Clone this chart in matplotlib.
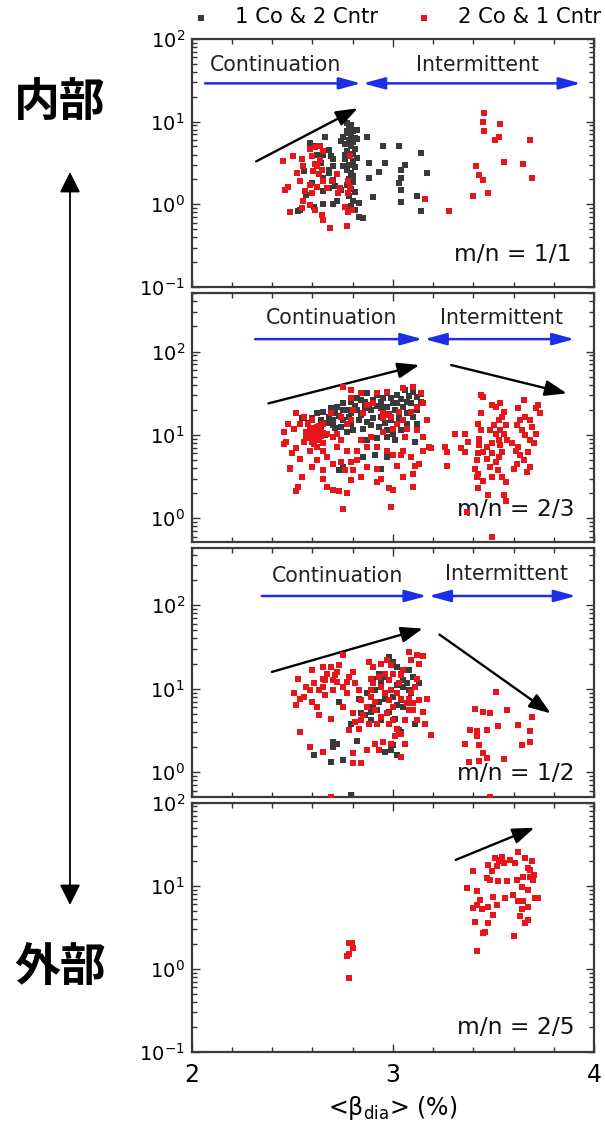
import numpy as np
import matplotlib
matplotlib.use('Agg')
import matplotlib.pyplot as plt
from matplotlib.ticker import MultipleLocator, LogLocator, NullFormatter

# ---- data: (beta_dia %, amplitude) pairs ----
p1_black = [(2.77, 9.5), (2.79, 9.0), (2.78, 8.2), (2.80, 7.6), (2.77, 7.2), (2.79, 6.8), (2.81, 6.4),
            (2.78, 6.0), (2.80, 5.6), (2.76, 5.3), (2.79, 5.0), (2.81, 4.7), (2.77, 4.4), (2.80, 4.1),
            (2.78, 3.8), (2.76, 3.5), (2.80, 3.3), (2.78, 3.0), (2.81, 2.8), (2.77, 2.6), (2.79, 2.4),
            (2.80, 2.2), (2.78, 2.0), (2.80, 1.85), (2.77, 1.7), (2.79, 1.55), (2.81, 1.4), (2.78, 1.25),
            (2.80, 1.1), (2.79, 0.95), (2.81, 0.85), (2.77, 7.8), (2.82, 6.2), (2.75, 6.5), (2.76, 4.0),
            (2.82, 3.6), (2.75, 2.9), (2.74, 5.8), (2.82, 8.0),
            (2.59, 5.5), (2.66, 6.6), (2.68, 4.5), (2.64, 3.15), (2.56, 2.5), (2.68, 2.6), (2.65, 2.07),
            (2.68, 1.56), (2.74, 1.5), (2.57, 1.3), (2.60, 1.8), (2.65, 1.0), (2.54, 0.86), (2.72, 1.1),
            (2.61, 0.94), (2.70, 1.97), (2.62, 3.95), (2.70, 3.5), (2.61, 5.0), (2.65, 4.0), (2.69, 3.8),
            (2.70, 2.9), (2.68, 2.4), (2.71, 1.65), (2.65, 1.45), (2.70, 1.0), (2.53, 0.82),
            (2.87, 6.6), (2.95, 5.0), (3.03, 5.0), (2.88, 3.14), (2.96, 3.14), (2.88, 2.07), (2.93, 2.48),
            (3.06, 3.0), (3.04, 2.6), (3.04, 2.07), (3.03, 1.8), (3.04, 1.47), (3.04, 1.08), (2.90, 1.22),
            (3.14, 4.15), (3.17, 2.42), (3.12, 1.26), (3.14, 0.84), (2.83, 0.71), (2.85, 0.68), (2.83, 1.04)]

p1_red = [(2.455, 3.3), (2.48, 1.64), (2.464, 1.49), (2.505, 3.8), (2.522, 2.4), (2.538, 1.9), (2.555, 2.9),
          (2.55, 3.5), (2.588, 4.6), (2.596, 3.8), (2.613, 3.1), (2.621, 2.9), (2.637, 3.4), (2.604, 2.5),
          (2.646, 2.6), (2.588, 1.7), (2.563, 1.45), (2.596, 1.38), (2.621, 1.64), (2.654, 1.9),
          (2.671, 1.56), (2.696, 1.9), (2.72, 2.3), (2.737, 1.56), (2.729, 1.38), (2.555, 1.1),
          (2.588, 0.98), (2.613, 0.86), (2.646, 0.75), (2.654, 0.65), (2.687, 0.52), (2.77, 0.54),
          (2.489, 0.8), (2.547, 0.89), (2.779, 0.8), (2.795, 0.86), (2.762, 0.94), (2.787, 3.8),
          (2.779, 1.9), (2.787, 1.64), (2.779, 1.38), (2.637, 5.0), (2.613, 4.9), (2.654, 4.4), (2.63, 2.35),
          (3.454, 12.6), (3.449, 9.8), (3.454, 7.7), (3.532, 9.4), (3.527, 6.6), (3.507, 6.0), (3.681, 6.0),
          (3.554, 3.26), (3.648, 3.08), (3.412, 2.94), (3.428, 2.26), (3.446, 1.97), (3.693, 2.07),
          (3.471, 1.36), (3.40, 1.26), (3.16, 1.17), (3.28, 0.83)]

p2_black = [(2.87, 31.5), (2.92, 30), (2.97, 31.5), (3.02, 30), (3.06, 34.6), (3.10, 33), (3.12, 28.8),
            (3.07, 25), (3.02, 23.9), (2.99, 27.5), (2.94, 25), (2.90, 26.2), (2.86, 25), (2.82, 27.5),
            (2.79, 25), (2.75, 23.9), (2.72, 21.8), (2.69, 20.8), (2.65, 19), (2.62, 18.1), (2.60, 15.8),
            (2.64, 15.1), (2.68, 16.5), (2.71, 18.1), (2.75, 19.9), (2.79, 18.1), (2.82, 19.9), (2.86, 20.8),
            (2.89, 19.9), (2.94, 20.8), (2.97, 21.8), (3.01, 19.9), (3.05, 21.8), (3.09, 23.9), (3.12, 19.9),
            (3.10, 16.5), (3.07, 18.1), (3.03, 15.8), (2.99, 15.1), (2.94, 16.5), (2.90, 15.8), (2.87, 14.4),
            (2.83, 15.1), (2.79, 13.7), (2.75, 15.1), (2.74, 12.5), (2.77, 10.9), (2.80, 11.4), (2.85, 11.9),
            (2.89, 13.1), (2.93, 12.5), (2.97, 11.4), (3.00, 10.4), (3.04, 11.4), (2.87, 8.6), (2.92, 9.1),
            (2.97, 9.5), (3.01, 8.6), (3.11, 8.3), (2.85, 5.4), (2.91, 5.7), (2.97, 5.4), (2.94, 3.9),
            (2.75, 4.1), (2.73, 3.8), (2.66, 9.9), (2.70, 13.1), (2.64, 11.9), (3.12, 13.7), (3.07, 13.7),
            (2.84, 17.3), (2.78, 16.5), (2.70, 15.1), (2.95, 28), (3.04, 27), (2.88, 23), (2.81, 22),
            (2.73, 17), (2.98, 18), (3.08, 29), (2.67, 14), (2.92, 22), (3.00, 24), (2.84, 26), (2.77, 20),
            (3.14, 25), (3.14, 31), (2.96, 14), (2.71, 12), (2.58, 14), (2.55, 16)]

p2_red = [(2.46, 10.9), (2.48, 13.7), (2.51, 11.9), (2.47, 8.3), (2.50, 6.0), (2.49, 3.9), (2.52, 6.9),
          (2.54, 5.2), (2.55, 3.1), (2.53, 2.4), (2.52, 18.1), (2.56, 16.5), (2.58, 13.7), (2.60, 11.9),
          (2.61, 10.4), (2.63, 9.1), (2.65, 7.9), (2.59, 9.5), (2.57, 10.9), (2.62, 12.5), (2.64, 10.9),
          (2.60, 8.3), (2.65, 6.5), (2.67, 5.4), (2.59, 6.5), (2.60, 4.1), (2.62, 5.0), (2.65, 3.8),
          (2.65, 3.0), (2.67, 2.4), (2.70, 2.2), (2.73, 2.1), (2.77, 2.0), (2.75, 1.3), (2.70, 4.5),
          (2.74, 4.7), (2.76, 3.8), (2.79, 4.7), (2.82, 5.0), (2.80, 3.8), (2.79, 2.85), (2.84, 3.1),
          (2.87, 4.1), (2.92, 3.9), (2.94, 3.0), (2.92, 2.7), (2.98, 2.3), (3.00, 2.2), (2.99, 1.36),
          (3.05, 3.1), (3.10, 2.4), (3.11, 4.3), (3.09, 5.4), (3.04, 5.7), (3.10, 3.4), (3.13, 4.5),
          (3.15, 6.5), (3.00, 5.7), (2.97, 6.5), (2.92, 7.2), (2.87, 7.2), (2.82, 6.5), (2.77, 6.5),
          (2.72, 7.2), (2.70, 9.5), (2.56, 8.3), (2.60, 15.1), (2.69, 18.1), (2.74, 16.5), (2.79, 15.1),
          (2.77, 13.7), (2.80, 19.9), (2.85, 18.1), (2.90, 23.9), (2.95, 18.1), (2.98, 17.3), (3.02, 13.7),
          (3.05, 15.1), (3.09, 19), (3.12, 21.8), (3.15, 23.9), (3.14, 31.5), (3.10, 37.9), (3.05, 36.2),
          (2.97, 33), (2.92, 31.5), (2.84, 31.5), (2.79, 34.6), (2.75, 37.9), (2.79, 27.5), (2.87, 22.8),
          (2.95, 15.8), (2.99, 16.5), (3.03, 19), (3.07, 11.9), (3.12, 11.4), (3.15, 9.5), (3.18, 7.2),
          (2.54, 13.7), (2.62, 7.2), (2.67, 10.4), (2.65, 13.7), (2.72, 10.4), (2.74, 8.6), (2.84, 8.6),
          (2.89, 9.5), (2.95, 10.9), (3.00, 11.9), (3.06, 9.5), (3.17, 15.1), (3.02, 4.3), (3.05, 6.5),
          (2.59, 11.5), (2.61, 12.0), (2.62, 10.0), (2.60, 9.0), (2.63, 11.0), (2.64, 9.8), (2.58, 10.2),
          (2.62, 8.7), (2.65, 10.5), (2.61, 7.8), (2.57, 9.3), (2.63, 12.8), (2.46, 7.7), (2.49, 4.0),
          (2.52, 2.1),
          (3.19, 6.9), (3.26, 7.2), (3.27, 6.3), (3.27, 4.3), (3.31, 10.4), (3.36, 10.4), (3.375, 8.2),
          (3.34, 6.9), (3.36, 6.3), (3.44, 30), (3.45, 28.7), (3.44, 18.1), (3.425, 13.7), (3.44, 11.4),
          (3.43, 9.0), (3.43, 7.5), (3.425, 6.0), (3.42, 5.0), (3.41, 3.9), (3.425, 3.4), (3.42, 3.1),
          (3.45, 2.8), (3.425, 2.3), (3.475, 1.9), (3.49, 22.8), (3.51, 21.8), (3.53, 23.9), (3.55, 18.9),
          (3.54, 16.5), (3.525, 15.0), (3.50, 13.1), (3.48, 11.4), (3.51, 10.4), (3.53, 11.4), (3.56, 13.1),
          (3.55, 10.4), (3.525, 8.6), (3.49, 7.9), (3.47, 7.2), (3.45, 6.3), (3.47, 5.2), (3.49, 6.0),
          (3.51, 4.7), (3.525, 5.4), (3.54, 6.3), (3.53, 7.5), (3.565, 8.6), (3.59, 7.9), (3.52, 3.8),
          (3.54, 3.1), (3.56, 2.7), (3.49, 3.1), (3.48, 4.1), (3.55, 1.9), (3.56, 1.6), (3.62, 20.8),
          (3.65, 26.2), (3.63, 15.0), (3.615, 13.1), (3.64, 11.4), (3.655, 9.9), (3.62, 7.2), (3.61, 6.5),
          (3.63, 5.7), (3.615, 4.5), (3.60, 3.9), (3.65, 5.0), (3.67, 6.3), (3.68, 8.6), (3.69, 12.5),
          (3.68, 15.0), (3.655, 16.5), (3.71, 10.4), (3.70, 7.9), (3.68, 4.1), (3.665, 3.6), (3.72, 22.8),
          (3.73, 18.1), (3.71, 20.8), (3.49, 0.59), (3.37, 1.18)]

p3_black = [(2.98, 24.1), (3.00, 21.0), (3.02, 18.3), (3.04, 15.2), (3.05, 12.7), (3.08, 16.7), (3.10, 13.9),
            (3.13, 11.6), (3.08, 9.6), (3.05, 10.5), (3.02, 11.0), (2.99, 9.6), (3.00, 8.0), (3.02, 6.4),
            (3.04, 7.3), (3.05, 6.1), (2.96, 13.9), (2.93, 15.2), (2.90, 13.2), (2.94, 11.6), (2.91, 9.6),
            (2.96, 7.6), (2.93, 7.0), (2.90, 6.1), (2.89, 5.3), (2.86, 4.8), (2.84, 5.1), (2.83, 7.6),
            (2.87, 8.8), (2.92, 5.5), (2.98, 5.3), (2.94, 4.2), (2.89, 4.2), (3.01, 4.4), (3.03, 3.2),
            (3.04, 3.0), (3.00, 2.1), (2.99, 1.84), (3.02, 1.6), (2.96, 1.76), (2.82, 2.4), (2.79, 3.8),
            (2.73, 7.0), (2.70, 2.3), (2.70, 2.0), (2.72, 2.2), (2.61, 1.6), (2.69, 1.34), (2.75, 1.4),
            (3.11, 3.8), (3.09, 8.8), (3.07, 11.6), (2.79, 0.53)]

p3_red = [(2.53, 13.2), (2.51, 8.8), (2.52, 6.4), (2.54, 7.6), (2.56, 8.0), (2.57, 10.5), (2.59, 9.6),
          (2.60, 16.7), (2.61, 11.6), (2.60, 7.0), (2.62, 6.1), (2.63, 4.8), (2.65, 18.3), (2.65, 13.2),
          (2.65, 10.5), (2.66, 8.4), (2.67, 15.2), (2.69, 18.3), (2.70, 12.7), (2.70, 9.6), (2.71, 14.5),
          (2.73, 19.1), (2.72, 12.1), (2.75, 25.2), (2.75, 10.5), (2.77, 12.1), (2.78, 13.9), (2.80, 15.9),
          (2.81, 11.6), (2.83, 9.6), (2.69, 4.4), (2.54, 3.0), (2.59, 2.0), (2.65, 1.76), (2.80, 5.1),
          (2.78, 3.2), (2.83, 3.3), (2.84, 4.2), (2.85, 4.8), (2.87, 6.1), (2.88, 21.0), (2.89, 13.2),
          (2.89, 9.6), (2.91, 7.0), (2.88, 3.8), (2.87, 1.84), (2.91, 2.2), (2.93, 1.84), (2.95, 2.3),
          (2.80, 1.68), (2.80, 1.28), (2.84, 1.28), (2.90, 18.3), (2.94, 20.0), (2.97, 22.0), (2.99, 19.1),
          (3.00, 15.2), (2.98, 12.7), (2.94, 10.5), (2.93, 13.9), (2.90, 11.6), (2.89, 8.0), (2.91, 5.5),
          (2.94, 4.6), (2.98, 3.8), (3.00, 4.2), (3.02, 3.3), (3.01, 2.7), (2.99, 2.2), (3.04, 1.53),
          (3.00, 6.1), (2.98, 7.3), (2.96, 8.8), (2.99, 9.6), (3.02, 8.8), (3.03, 11.6), (3.04, 14.5),
          (3.05, 16.7), (3.08, 27.6), (3.09, 22.0), (3.12, 25.2), (3.15, 24.6), (3.13, 20.0), (3.12, 13.2),
          (3.11, 10.5), (3.09, 9.2), (3.08, 7.6), (3.07, 6.7), (3.08, 5.5), (3.10, 5.5), (3.12, 4.2),
          (3.15, 5.3), (3.16, 3.8), (3.13, 7.3), (3.17, 7.6), (3.19, 2.8), (3.06, 4.2), (3.04, 2.9),
          (2.97, 5.1), (2.92, 3.8), (2.84, 7.3), (2.81, 4.0), (2.75, 6.1), (2.77, 8.8), (2.72, 16.0),
          (2.66, 12.7), (2.63, 9.6), (3.06, 2.2), (3.10, 6.7), (3.04, 7.6), (2.96, 15.2), (2.69, 0.5),
          (3.51, 9.2), (3.45, 5.3), (3.48, 5.1), (3.41, 5.8), (3.565, 5.5), (3.69, 4.6), (3.383, 3.25),
          (3.42, 3.1), (3.47, 3.25), (3.52, 3.6), (3.62, 3.7), (3.68, 3.1), (3.36, 2.2), (3.42, 2.7),
          (3.43, 2.1), (3.45, 1.7), (3.47, 1.5), (3.38, 1.34), (3.43, 1.37), (3.55, 1.44), (3.64, 2.1),
          (3.68, 2.3), (3.48, 0.5)]

p4_red = [(2.795, 2.05), (2.78, 2.05), (2.80, 1.79), (2.78, 1.49), (2.77, 1.44), (2.78, 0.78),
          (3.40, 14.9), (3.37, 9.4), (3.42, 8.6), (3.475, 17.9), (3.49, 14.9), (3.466, 12.4), (3.48, 11.8),
          (3.507, 21.5), (3.53, 20.5), (3.55, 18.7), (3.515, 17.1), (3.524, 11.3), (3.565, 11.3),
          (3.607, 18.7), (3.623, 25.8), (3.657, 21.5), (3.69, 19.6), (3.673, 16.3), (3.648, 12.9),
          (3.615, 11.8), (3.68, 12.9), (3.698, 11.8), (3.673, 9.0), (3.64, 9.8), (3.706, 7.1), (3.72, 7.1),
          (3.599, 7.8), (3.557, 7.1), (3.499, 7.4), (3.515, 5.9), (3.475, 5.6), (3.433, 6.8), (3.416, 5.9),
          (3.40, 5.4), (3.441, 5.2), (3.499, 4.5), (3.475, 3.6), (3.408, 3.7), (3.458, 2.8), (3.623, 6.5),
          (3.648, 6.5), (3.673, 5.6), (3.64, 5.2), (3.632, 4.3), (3.657, 3.6), (3.673, 3.9), (3.602, 2.5),
          (3.416, 1.66), (3.45, 2.7), (3.525, 19.6), (3.54, 22.5), (3.68, 15.5), (3.70, 13.5), (3.58, 20.5)]

modes = ['m/n = 1/1', 'm/n = 2/3', 'm/n = 1/2', 'm/n = 2/5']
ylims = [(0.1, 100), (0.52, 500), (0.51, 480), (0.1, 100)]
legend_labels = ['1 Co & 2 Cntr', '2 Co & 1 Cntr']

RED = '#e8161b'
GREY = '#3a3a3a'
BLUE = '#1c2ee6'

plt.rcParams['font.family'] = ['DejaVu Sans']
fig = plt.figure(figsize=(6.05, 11.28), dpi=100)

# axes boxes in figure fractions (left, bottom, width, height)
boxes = [(0.317, 0.7456, 0.665, 0.2199),
         (0.317, 0.5195, 0.665, 0.2205),
         (0.317, 0.2937, 0.665, 0.2202),
         (0.317, 0.0674, 0.665, 0.2210)]

# text / arrow placement per panel (data coords)
cont_pos = [(2.414, 48.5), (2.696, 252), (2.724, 222), None]
inter_pos = [(3.418, 48.5), (3.541, 252), (3.566, 239), None]
blue_arrows = [((2.066, 3.934), 29, 2.846), ((2.315, 3.902), 141, 3.152), ((2.348, 3.910), 129, 3.173), None]
black_arrows = [[((2.32, 3.3), (2.825, 14.5))],
                [((2.381, 23.9), (3.131, 69)), ((3.289, 69), (3.864, 31.5))],
                [((2.398, 15.9), (3.148, 52.6)), ((3.231, 44.6), (3.784, 5.07))],
                [((3.312, 20.5), (3.703, 50))]]
mode_pos = [(3.889, 0.245), (3.902, 1.26), (3.902, 0.98), (3.902, 0.196)]

data = [(p1_black, p1_red), (p2_black, p2_red), (p3_black, p3_red), ([], p4_red)]


def arrow(ax, start, end, color, style, lw=1.8, scale=12):
    ax.annotate('', xy=end, xytext=start,
                arrowprops=dict(arrowstyle=style, color=color, lw=lw,
                                shrinkA=0, shrinkB=0, mutation_scale=scale))


axes = []
for i in range(4):
    ax = fig.add_axes(boxes[i])
    axes.append(ax)
    black, red = data[i]
    hb = None
    if black:
        bx, by = np.array(black).T
        hb = ax.scatter(bx, by, marker='s', s=16, color=GREY, linewidths=0, zorder=3)
    rx, ry = np.array(red).T
    hr = ax.scatter(rx, ry, marker='s', s=16, color=RED, linewidths=0, zorder=4)
    if i == 0:
        leg_handles = [hb, hr]

    ax.set_yscale('log')
    ax.set_xlim(2, 4)
    ax.set_ylim(*ylims[i])
    ax.xaxis.set_major_locator(MultipleLocator(1))
    ax.xaxis.set_minor_locator(MultipleLocator(0.2))
    ax.yaxis.set_major_locator(LogLocator(base=10))
    ax.yaxis.set_minor_locator(LogLocator(base=10, subs=np.arange(2, 10)))
    ax.yaxis.set_minor_formatter(NullFormatter())
    ax.tick_params(which='both', direction='in', top=True, right=True, width=1.0, color='#333333')
    ax.tick_params(which='major', length=6)
    ax.tick_params(which='minor', length=3.5)
    ax.tick_params(axis='y', labelsize=14, pad=5)
    ax.tick_params(axis='x', labelsize=17, pad=8)
    if i < 3:
        ax.tick_params(axis='x', labelbottom=False)
    for sp in ax.spines.values():
        sp.set_linewidth(1.6)
        sp.set_color('#3a3a3a')

    if cont_pos[i]:
        ax.text(*cont_pos[i], 'Continuation', fontsize=14.8, ha='center', va='center', color='#222222')
        ax.text(*inter_pos[i], 'Intermittent', fontsize=14.8, ha='center', va='center', color='#222222')
        (x0, x1), yb, xs = blue_arrows[i]
        arrow(ax, (x0, yb), (xs - 0.005, yb), BLUE, '-|>,head_length=1.1,head_width=0.3', lw=1.8)
        arrow(ax, (xs + 0.005, yb), (x1, yb), BLUE, '<|-|>,head_length=1.1,head_width=0.3', lw=1.8)
    for start, end in black_arrows[i]:
        arrow(ax, start, end, 'black', '-|>,head_length=1.1,head_width=0.4', lw=1.7)
    ax.text(*mode_pos[i], modes[i], fontsize=16.8, ha='right', va='center', color='#111111')

axes[0].legend(leg_handles, legend_labels, loc='center left', bbox_to_anchor=(-0.003, 1.088),
               ncol=2, frameon=False, fontsize=15.2, handlelength=1.0, handletextpad=1.1,
               columnspacing=1.7, borderpad=0, borderaxespad=0, scatterpoints=1)

fig.text(393 / 605, 1 - 1108 / 1128, r'<β$_{\rm dia}$> (%)', fontsize=17, ha='center', va='center')

# side labels and double arrow
fig.text(60 / 605, 1 - 103 / 1128, '内部', fontsize=33, fontweight='bold', ha='center', va='center',
         family=['Noto Sans CJK JP', 'DejaVu Sans'])
fig.text(60 / 605, 1 - 968 / 1128, '外部', fontsize=33, fontweight='bold', ha='center', va='center',
         family=['Noto Sans CJK JP', 'DejaVu Sans'])
fig.add_artist(matplotlib.patches.FancyArrowPatch(
    (70 / 605, 1 - 172 / 1128), (70 / 605, 1 - 905 / 1128), transform=fig.transFigure,
    arrowstyle='<|-|>,head_length=0.9,head_width=0.45', mutation_scale=14, lw=1.3, color='black',
    shrinkA=0, shrinkB=0))

fig.savefig('out.png', dpi=100)
